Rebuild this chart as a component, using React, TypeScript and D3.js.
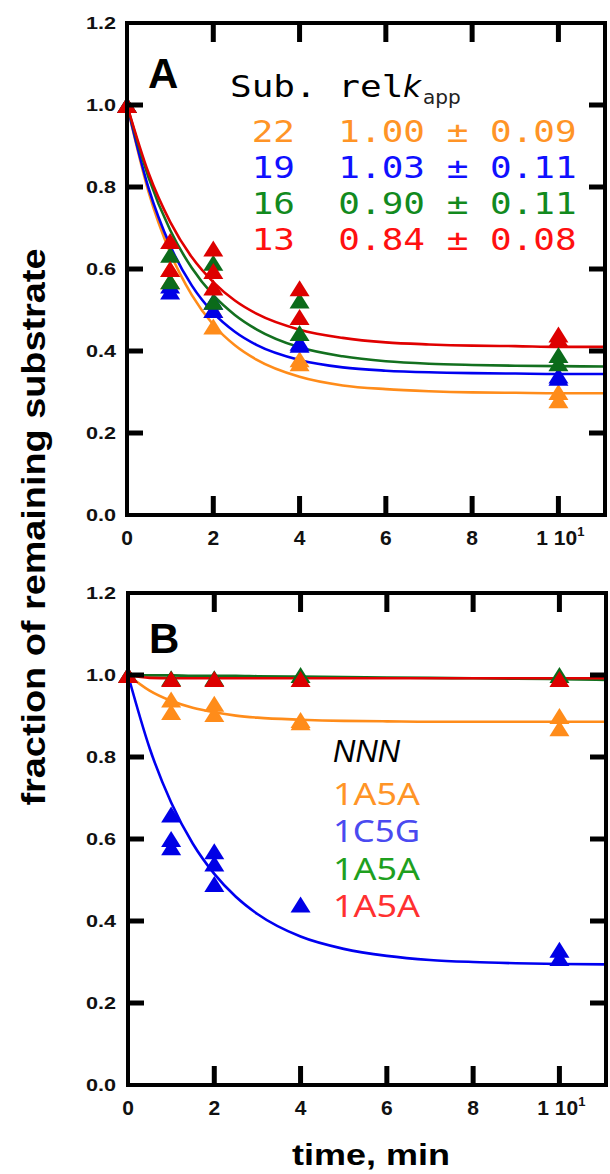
import React from "react";
import * as d3 from "d3";

// ---------- data ----------
const TIMES = [0, 1, 2, 4, 10];

// Panel A replicate values per time point
const A_ORANGE = [[1.0], [0.6, 0.57], [0.46, 0.5], [0.37, 0.38], [0.28, 0.3]];
const A_BLUE = [[1.0], [0.545, 0.56], [0.5, 0.52], [0.415, 0.42], [0.335, 0.34]];
const A_GREEN = [[1.0], [0.57, 0.635], [0.52, 0.615], [0.444, 0.523], [0.37, 0.39]];
const A_RED = [[1.0], [0.6, 0.668], [0.555, 0.595, 0.65], [0.483, 0.553], [0.43, 0.44]];

// Panel B replicate values per time point
const B_ORANGE = [[1.0], [0.94, 0.91], [0.93, 0.905], [0.89, 0.885], [0.9, 0.87]];
const B_BLUE = [[1.0], [0.66, 0.6, 0.58], [0.57, 0.54, 0.49], [0.44], [0.33, 0.31]];
const B_GREEN = [[1.0], [0.992], [0.992], [1.0], [1.0]];
const B_RED = [[1.0], [0.99], [0.99], [0.99], [0.99]];

// Fitted curves
const CURVE_T = [0, 0.5, 1, 1.5, 2, 2.5, 3, 4, 5, 6, 7, 8, 9, 10, 11.2];
const A_ORANGE_FIT = [1.0, 0.788, 0.64, 0.537, 0.464, 0.414, 0.379, 0.337, 0.316, 0.307, 0.302, 0.299, 0.298, 0.297, 0.297];
const A_BLUE_FIT = [1.0, 0.797, 0.657, 0.56, 0.493, 0.447, 0.415, 0.378, 0.36, 0.352, 0.348, 0.346, 0.345, 0.344, 0.344];
const A_GREEN_FIT = [1.0, 0.823, 0.695, 0.603, 0.536, 0.488, 0.453, 0.409, 0.387, 0.375, 0.369, 0.366, 0.364, 0.363, 0.362];
const A_RED_FIT = [1.0, 0.834, 0.715, 0.629, 0.568, 0.523, 0.491, 0.452, 0.432, 0.421, 0.416, 0.413, 0.412, 0.41, 0.41];

const B_ORANGE_FIT = [1.0, 0.962, 0.937, 0.92, 0.909, 0.901, 0.896, 0.891, 0.888, 0.887, 0.886, 0.886, 0.886, 0.886, 0.886];
const B_BLUE_FIT = [1.0, 0.822, 0.689, 0.589, 0.515, 0.459, 0.417, 0.362, 0.332, 0.315, 0.305, 0.3, 0.297, 0.295, 0.294];
const B_GREEN_FIT = [1.0, 0.999, 0.999, 0.998, 0.998, 0.998, 0.997, 0.996, 0.995, 0.994, 0.993, 0.992, 0.991, 0.99, 0.988];
const B_RED_FIT = [1.0, 0.993, 0.992, 0.992, 0.992, 0.992, 0.992, 0.992, 0.992, 0.992, 0.992, 0.992, 0.992, 0.992, 0.992];

// Legends
const SUBS = ["22", "19", "16", "13"];
const RELK = ["1.00", "1.03", "0.90", "0.84"];
const RELK_ERR = ["0.09", "0.11", "0.11", "0.08"];
const NNN_LABELS = ["1A5A", "1C5G", "1A5A", "1A5A"];

const Y_TICKS = [0, 0.2, 0.4, 0.6, 0.8, 1.0, 1.2];
const X_TICKS = [0, 2, 4, 6, 8, 10];

// ---------- styles ----------
const MARK_COLORS = ["#FF8C1A", "#0000E6", "#0B6B1A", "#DD0000"];
const LINE_COLORS = ["#FF8C1A", "#0000F0", "#13701F", "#E00000"];
const TEXT_A = ["#FF9426", "#1010FF", "#128A1E", "#FF1010"];
const TEXT_B = ["#FF9426", "#4A4AF0", "#1EA01E", "#FF3030"];

const W = 610;
const H = 1174;
const MONO_ADV = 21.67; // character advance of the monospace legend

type PanelDef = {
  top: number;
  bottom: number;
  left: number;
  right: number;
  letter: string;
  series: number[][][];
  fits: number[][];
  order: number[];
};

const PANELS: PanelDef[] = [
  {
    top: 23, bottom: 515, left: 127, right: 605, letter: "A",
    series: [A_ORANGE, A_BLUE, A_GREEN, A_RED],
    fits: [A_ORANGE_FIT, A_BLUE_FIT, A_GREEN_FIT, A_RED_FIT],
    order: [0, 1, 2, 3],
  },
  {
    top: 593, bottom: 1085, left: 128, right: 606, letter: "B",
    series: [B_ORANGE, B_BLUE, B_GREEN, B_RED],
    fits: [B_ORANGE_FIT, B_BLUE_FIT, B_GREEN_FIT, B_RED_FIT],
    order: [1, 0, 2, 3],
  },
];

const tri = (cx: number, cy: number) =>
  `M${cx - 10},${cy + 8}L${cx},${cy - 8}L${cx + 10},${cy + 8}Z`;

function Panel({ p, idx }: { p: PanelDef; idx: number }) {
  const x = d3.scaleLinear().domain([0, 11.08]).range([p.left, p.right]);
  const y = d3.scaleLinear().domain([0, 1.2]).range([p.bottom, p.top]);
  const line = d3
    .line<[number, number]>()
    .x((d) => x(d[0]))
    .y((d) => y(d[1]))
    .curve(d3.curveMonotoneX);
  const clipId = `clip${idx}`;
  const font = "'Liberation Sans', Arial, sans-serif";
  return (
    <g>
      <defs>
        <clipPath id={clipId}>
          <rect x={p.left} y={p.top} width={p.right - p.left} height={p.bottom - p.top} />
        </clipPath>
      </defs>
      {/* fit lines */}
      <g clipPath={`url(#${clipId})`}>
        {p.order.map((si) => (
          <path
            key={`l${si}`}
            d={line(CURVE_T.map((t, i) => [t, p.fits[si][i]] as [number, number])) || ""}
            fill="none"
            stroke={LINE_COLORS[si]}
            strokeWidth={2.6}
          />
        ))}
      </g>
      {/* markers */}
      {p.order.map((si) => (
        <g key={`m${si}`} fill={MARK_COLORS[si]}>
          {TIMES.map((t, ti) =>
            p.series[si][ti].map((v, k) => <path key={`${ti}-${k}`} d={tri(x(t), y(v))} />)
          )}
        </g>
      ))}
      {/* frame */}
      <rect
        x={p.left}
        y={p.top}
        width={p.right - p.left}
        height={p.bottom - p.top}
        fill="none"
        stroke="#000"
        strokeWidth={4}
      />
      {/* y ticks */}
      {Y_TICKS.filter((v) => v > 0 && v < 1.2).map((v) => (
        <g key={`yt${v}`} stroke="#000" strokeWidth={5}>
          <line x1={p.left} x2={p.left + 16} y1={y(v)} y2={y(v)} />
          <line x1={p.right - 16} x2={p.right} y1={y(v)} y2={y(v)} />
        </g>
      ))}
      {/* x ticks */}
      {X_TICKS.filter((v) => v > 0).map((v) => (
        <g key={`xt${v}`} stroke="#000" strokeWidth={5}>
          <line x1={x(v)} x2={x(v)} y1={p.bottom} y2={p.bottom - 19} />
          <line x1={x(v)} x2={x(v)} y1={p.top} y2={p.top + 19} />
        </g>
      ))}
      {/* y tick labels */}
      {Y_TICKS.map((v) => (
        <text
          key={`yl${v}`}
          x={86}
          y={y(v) + 6}
          fontFamily={font}
          fontWeight="bold"
          fontSize={16}
          textLength={30}
          lengthAdjust="spacingAndGlyphs"
          fill="#111"
        >
          {v.toFixed(1)}
        </text>
      ))}
      {/* x tick labels */}
      {X_TICKS.map((v) =>
        v === 10 ? (
          <text
            key={`xl${v}`}
            x={x(v) + 2}
            y={p.bottom + 30}
            textAnchor="middle"
            fontFamily={font}
            fontWeight="bold"
            fontSize={21}
            fill="#111"
          >
            1 10
            <tspan fontSize={13} dy={-9}>1</tspan>
          </text>
        ) : (
          <text
            key={`xl${v}`}
            x={x(v)}
            y={p.bottom + 30}
            textAnchor="middle"
            fontFamily={font}
            fontWeight="bold"
            fontSize={21}
            fill="#111"
          >
            {String(v)}
          </text>
        )
      )}
      {/* panel letter */}
      <text
        x={p.left + 21}
        y={p.top + (idx === 0 ? 65 : 60)}
        fontFamily={font}
        fontWeight="bold"
        fontSize={42}
        fill="#000"
      >
        {p.letter}
      </text>
    </g>
  );
}

export default function App() {
  const mono = "'DejaVu Sans Mono', monospace";
  const sans = "'DejaVu Sans', sans-serif";
  const font = "'Liberation Sans', Arial, sans-serif";
  const header = "Sub. rel";
  return (
    <svg
      width={W}
      height={H}
      viewBox={`0 0 ${W} ${H}`}
      style={{ position: "absolute", left: 0, top: 0, display: "block", background: "#fff" }}
    >
      <rect x={0} y={0} width={W} height={H} fill="#fff" />
      {PANELS.map((p, i) => (
        <Panel key={i} p={p} idx={i} />
      ))}

      {/* Legend A */}
      <text
        x={230}
        y={97}
        fontFamily={mono}
        fontSize={30.5}
        textLength={header.length * MONO_ADV}
        lengthAdjust="spacingAndGlyphs"
        fill="#000"
        style={{ whiteSpace: "pre" }}
      >
        {header}
      </text>
      <text x={403} y={97} fontFamily={sans} fontStyle="italic" fontSize={31} fill="#000">
        k
      </text>
      <text x={423} y={104} fontFamily={sans} fontSize={20} fill="#222">
        app
      </text>
      {SUBS.map((s, i) => {
        const row = ` ${s}  ${RELK[i]} \u00B1 ${RELK_ERR[i]}`;
        return (
          <text
            key={`la${i}`}
            x={230}
            y={141.5 + 36 * i}
            fontFamily={mono}
            fontSize={30.5}
            textLength={row.length * MONO_ADV}
            lengthAdjust="spacingAndGlyphs"
            fill={TEXT_A[i]}
            style={{ whiteSpace: "pre" }}
          >
            {row}
          </text>
        );
      })}

      {/* Legend B */}
      <text x={333} y={762} fontFamily={font} fontStyle="italic" fontSize={31} fill="#000">
        NNN
      </text>
      {NNN_LABELS.map((s, i) => (
        <text
          key={`lb${i}`}
          x={333}
          y={805 + 37.3 * i}
          fontFamily="'Noto Sans', sans-serif"
          fontSize={30}
          textLength={87}
          lengthAdjust="spacingAndGlyphs"
          fill={TEXT_B[i]}
        >
          {s}
        </text>
      ))}

      {/* axis titles */}
      <text
        x={371}
        y={1165}
        textAnchor="middle"
        fontFamily={font}
        fontWeight="bold"
        fontSize={30}
        textLength={158}
        lengthAdjust="spacingAndGlyphs"
        fill="#000"
      >
        time, min
      </text>
      <text
        transform="translate(45,527) rotate(-90)"
        textAnchor="middle"
        fontFamily={font}
        fontWeight="bold"
        fontSize={33}
        textLength={557}
        lengthAdjust="spacingAndGlyphs"
        fill="#000"
      >
        fraction of remaining substrate
      </text>
    </svg>
  );
}
